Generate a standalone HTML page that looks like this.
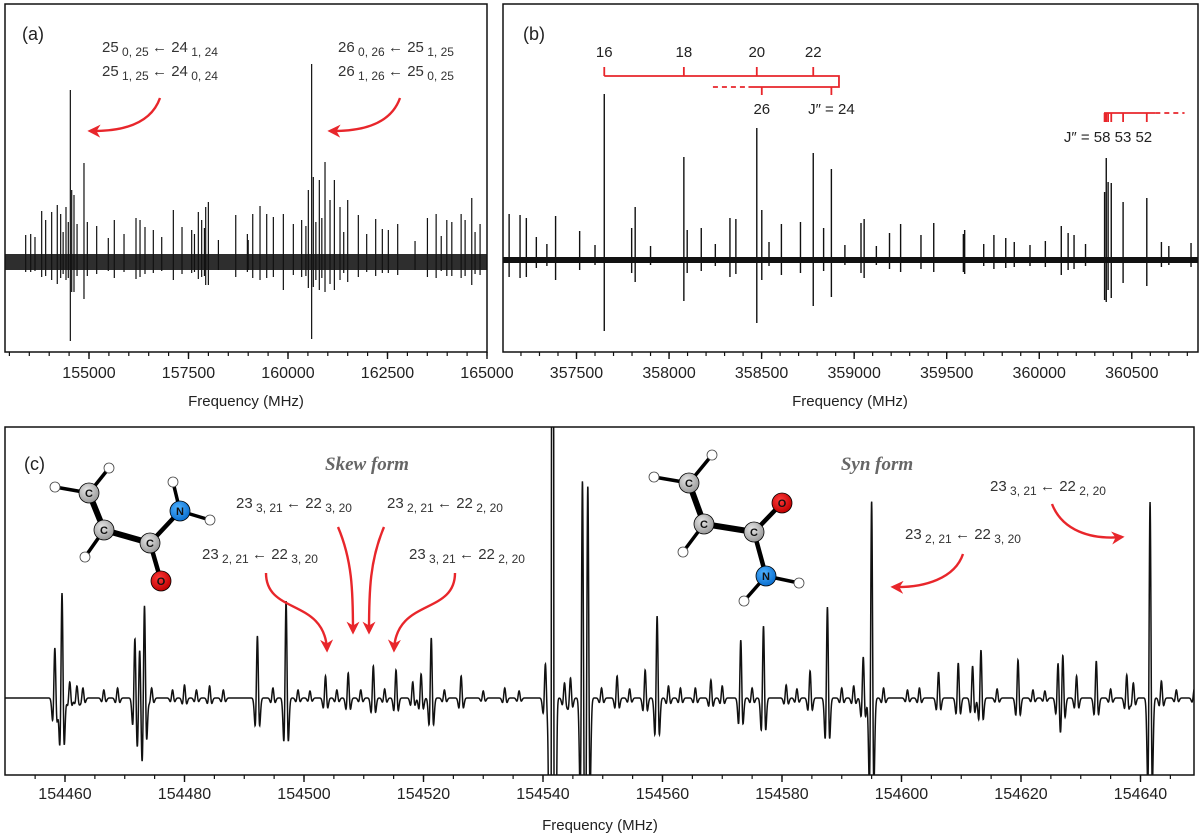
<!DOCTYPE html>
<html><head><meta charset="utf-8"><style>
html,body{margin:0;padding:0;background:#fff;width:1200px;height:840px;overflow:hidden;}
svg{display:block;font-family:"Liberation Sans",Arial,sans-serif;}
.tl{font-size:16px;fill:#222;text-anchor:middle;}
.ax{font-size:15px;fill:#222;text-anchor:middle;}
.tr{font-size:15px;fill:#333;}
.sub{font-size:12px;}
.form{font-family:"Liberation Serif",serif;font-weight:bold;font-style:italic;font-size:19px;fill:#666;text-anchor:middle;}
.pl{font-size:18px;fill:#222;}
.arw{fill:none;stroke:#e8262b;stroke-width:2.4;}
.lad{stroke:#e8262b;stroke-width:1.8;fill:none;}
.lt{font-size:15px;fill:#222;text-anchor:middle;}
</style></head><body>
<svg id="fig" width="1200" height="840" viewBox="0 0 1200 840" xmlns="http://www.w3.org/2000/svg">
<defs>
<marker id="ah" viewBox="0 0 10 10" refX="8" refY="5" markerWidth="13" markerHeight="13" markerUnits="userSpaceOnUse" orient="auto"><path d="M0,0 L10,5 L0,10 L3,5 z" fill="#e8262b"/></marker>
<radialGradient id="gC" cx="40%" cy="35%" r="65%"><stop offset="0" stop-color="#e6e6e6"/><stop offset="1" stop-color="#9a9a9a"/></radialGradient>
<radialGradient id="gN" cx="40%" cy="35%" r="65%"><stop offset="0" stop-color="#4fb2ff"/><stop offset="1" stop-color="#0a6fd0"/></radialGradient>
<radialGradient id="gO" cx="40%" cy="35%" r="65%"><stop offset="0" stop-color="#ff3a3a"/><stop offset="1" stop-color="#c00000"/></radialGradient>
<clipPath id="clipA"><rect x="5" y="4" width="482" height="348"/></clipPath>
<clipPath id="clipB"><rect x="503" y="4" width="695" height="348"/></clipPath>
<clipPath id="clipC"><rect x="5" y="427" width="1189" height="348"/></clipPath>
</defs>

<g id="panelA">
<rect x="5" y="254" width="482" height="16" fill="#111" fill-opacity="0.88" clip-path="url(#clipA)"/>
<g id="sticksA" clip-path="url(#clipA)"></g>
<rect x="5" y="4" width="482" height="348" fill="none" stroke="#111" stroke-width="1.5"/>
<g id="ticksA"></g>
<text class="ax" x="246" y="406">Frequency (MHz)</text>
<text class="pl" x="22" y="40">(a)</text>
<text class="tr" x="102" y="52">25<tspan class="sub" dy="4"> 0, 25 </tspan><tspan dy="-4">← 24</tspan><tspan class="sub" dy="4"> 1, 24</tspan></text>
<text class="tr" x="102" y="76">25<tspan class="sub" dy="4"> 1, 25 </tspan><tspan dy="-4">← 24</tspan><tspan class="sub" dy="4"> 0, 24</tspan></text>
<text class="tr" x="338" y="52">26<tspan class="sub" dy="4"> 0, 26 </tspan><tspan dy="-4">← 25</tspan><tspan class="sub" dy="4"> 1, 25</tspan></text>
<text class="tr" x="338" y="76">26<tspan class="sub" dy="4"> 1, 26 </tspan><tspan dy="-4">← 25</tspan><tspan class="sub" dy="4"> 0, 25</tspan></text>
<path class="arw" d="M160,98 Q148,132 90,131" marker-end="url(#ah)"/>
<path class="arw" d="M400,98 Q388,132 330,131" marker-end="url(#ah)"/>
</g>

<g id="panelB">
<rect x="503" y="257" width="695" height="6" fill="#111" clip-path="url(#clipB)"/>
<g id="sticksB" clip-path="url(#clipB)"></g>
<rect x="503" y="4" width="695" height="348" fill="none" stroke="#111" stroke-width="1.5"/>
<g id="ticksB"></g>
<text class="ax" x="850" y="406">Frequency (MHz)</text>
<text class="pl" x="523" y="40">(b)</text>
<g id="ladders"></g>
</g>

<g id="panelC">
<path id="traceC" fill="none" stroke="#111" stroke-width="1.5" clip-path="url(#clipC)"/>
<rect x="5" y="427" width="1189" height="348" fill="none" stroke="#111" stroke-width="1.5"/>
<g id="ticksC"></g>
<text class="ax" x="600" y="830">Frequency (MHz)</text>
<text class="pl" x="24" y="470">(c)</text>
<text class="form" x="367" y="470">Skew form</text>
<text class="form" x="877" y="470">Syn form</text>
<text class="tr" x="236" y="508">23<tspan class="sub" dy="4"> 3, 21 </tspan><tspan dy="-4">← 22</tspan><tspan class="sub" dy="4"> 3, 20</tspan></text>
<text class="tr" x="387" y="508">23<tspan class="sub" dy="4"> 2, 21 </tspan><tspan dy="-4">← 22</tspan><tspan class="sub" dy="4"> 2, 20</tspan></text>
<text class="tr" x="202" y="559">23<tspan class="sub" dy="4"> 2, 21 </tspan><tspan dy="-4">← 22</tspan><tspan class="sub" dy="4"> 3, 20</tspan></text>
<text class="tr" x="409" y="559">23<tspan class="sub" dy="4"> 3, 21 </tspan><tspan dy="-4">← 22</tspan><tspan class="sub" dy="4"> 2, 20</tspan></text>
<text class="tr" x="990" y="491">23<tspan class="sub" dy="4"> 3, 21 </tspan><tspan dy="-4">← 22</tspan><tspan class="sub" dy="4"> 2, 20</tspan></text>
<text class="tr" x="905" y="539">23<tspan class="sub" dy="4"> 2, 21 </tspan><tspan dy="-4">← 22</tspan><tspan class="sub" dy="4"> 3, 20</tspan></text>
<path class="arw" d="M266,573 C266,615 325,598 327,650" marker-end="url(#ah)"/>
<path class="arw" d="M338,527 C352,560 353,590 353,632" marker-end="url(#ah)"/>
<path class="arw" d="M384,527 C370,560 369,590 369,632" marker-end="url(#ah)"/>
<path class="arw" d="M455,573 C455,615 396,598 394,650" marker-end="url(#ah)"/>
<path class="arw" d="M1052,504 C1062,530 1090,540 1122,537" marker-end="url(#ah)"/>
<path class="arw" d="M963,554 C955,578 925,588 893,587" marker-end="url(#ah)"/>

<g stroke="#000">
<line x1="55" y1="487" x2="89" y2="493" stroke-width="3.5"/>
<line x1="109" y1="468" x2="89" y2="493" stroke-width="3.5"/>
<line x1="89" y1="493" x2="104" y2="530" stroke-width="6"/>
<line x1="85" y1="557" x2="104" y2="530" stroke-width="3.5"/>
<line x1="104" y1="530" x2="150" y2="543" stroke-width="6"/>
<line x1="150" y1="543" x2="180" y2="511" stroke-width="4.5"/>
<line x1="150" y1="543" x2="161" y2="581" stroke-width="4.5"/>
<line x1="173" y1="482" x2="180" y2="511" stroke-width="3.5"/>
<line x1="210" y1="520" x2="180" y2="511" stroke-width="3.5"/>
<g stroke="#444" stroke-width="0.8" fill="#fff">
<circle cx="55" cy="487" r="5"/><circle cx="109" cy="468" r="5"/><circle cx="85" cy="557" r="5"/><circle cx="173" cy="482" r="5"/><circle cx="210" cy="520" r="5"/>
</g>
<circle cx="89" cy="493" r="10" fill="url(#gC)" stroke-width="0.8"/><circle cx="104" cy="530" r="10" fill="url(#gC)" stroke-width="0.8"/><circle cx="150" cy="543" r="10" fill="url(#gC)" stroke-width="0.8"/>
<circle cx="180" cy="511" r="10" fill="url(#gN)" stroke-width="0.8"/><circle cx="161" cy="581" r="10" fill="url(#gO)" stroke-width="0.8"/>
<g stroke="none" font-size="11" font-weight="bold" text-anchor="middle" fill="#111"><text x="89" y="497">C</text><text x="104" y="534">C</text><text x="150" y="547">C</text><text x="180" y="515">N</text><text x="161" y="585">O</text></g>
</g>

<g stroke="#000">
<line x1="654" y1="477" x2="689" y2="483" stroke-width="3.5"/>
<line x1="712" y1="455" x2="689" y2="483" stroke-width="3.5"/>
<line x1="689" y1="483" x2="704" y2="524" stroke-width="6"/>
<line x1="683" y1="552" x2="704" y2="524" stroke-width="3.5"/>
<line x1="704" y1="524" x2="754" y2="532" stroke-width="6"/>
<line x1="754" y1="532" x2="782" y2="503" stroke-width="4.5"/>
<line x1="754" y1="532" x2="766" y2="576" stroke-width="4.5"/>
<line x1="744" y1="601" x2="766" y2="576" stroke-width="3.5"/>
<line x1="799" y1="583" x2="766" y2="576" stroke-width="3.5"/>
<g stroke="#444" stroke-width="0.8" fill="#fff">
<circle cx="654" cy="477" r="5"/><circle cx="712" cy="455" r="5"/><circle cx="683" cy="552" r="5"/><circle cx="744" cy="601" r="5"/><circle cx="799" cy="583" r="5"/>
</g>
<circle cx="689" cy="483" r="10" fill="url(#gC)" stroke-width="0.8"/><circle cx="704" cy="524" r="10" fill="url(#gC)" stroke-width="0.8"/><circle cx="754" cy="532" r="10" fill="url(#gC)" stroke-width="0.8"/>
<circle cx="782" cy="503" r="10" fill="url(#gO)" stroke-width="0.8"/><circle cx="766" cy="576" r="10" fill="url(#gN)" stroke-width="0.8"/>
<g stroke="none" font-size="11" font-weight="bold" text-anchor="middle" fill="#111"><text x="689" y="487">C</text><text x="704" y="528">C</text><text x="754" y="536">C</text><text x="782" y="507">O</text><text x="766" y="580">N</text></g>
</g>
</g>
</svg>
<script>
// ---------- data ----------
// Panel (a): [frequency MHz, intensity up, intensity down]
const aLines = [
[153409,27,10],[153535,28,10],[153643,25,9],[153811,51,15],[153911,42,14],[154062,50,18],
[154203,57,22],[154288,48,16],[154422,55,18],[154531,172,79],[154565,72,30],[154623,67,30],
[154874,99,37],[154958,40,14],[155193,36,12],[155485,24,9],[155636,42,16],[155880,28,10],
[156181,44,17],[156282,42,15],[156407,35,12],[156616,32,11],[156827,25,9],[157119,52,18],
[157337,35,12],[157580,32,11],[157747,50,17],[157831,42,15],[157932,55,23],[157999,60,23],
[158251,22,8],[158687,47,15],[158979,28,10],[159114,48,16],[159297,56,18],[159465,48,16],
[159632,45,15],[159883,48,28],[160134,38,13],[160343,42,15],[160511,72,26],[160594,198,77],
[160636,85,25],[160787,82,28],[160930,100,30],[161056,62,22],[161165,82,28],[161307,55,18],
[161500,62,20],[161767,47,15],[161977,28,10],[162203,43,14],[162370,33,11],[162521,32,11],
[162756,38,13],[163192,21,8],[163503,44,15],[163722,48,16],[163990,42,14],[164116,40,14],
[164350,48,16],[164450,42,14],[164617,64,23],[164826,38,13],
[154350,30,12],[154700,38,14],[154480,40,16],[160450,36,14],[160700,40,18],[160850,44,16],
[161400,30,11],[157650,28,10],[157900,34,14],[159000,22,8],[163850,26,9],[164700,30,12]
];
const aTicks = [155000,157500,160000,162500,165000];
const aTickLabels = ["155000","157500","160000","162500","165000"];
// Panel (b)
const bLines = [
[357136,46,17],[357195,45,18],[357229,42,17],[357283,23,8],[357387,44,20],[357517,29,10],
[357650,166,71],[357798,32,13],[357817,53,22],[358080,103,41],[358098,30,13],[358174,32,11],
[358329,42,17],[358361,41,14],[358474,132,63],[358501,50,20],[358607,36,15],[358710,38,13],
[358779,107,46],[358835,32,11],[358877,91,37],[359037,37,13],[359054,41,18],[359191,27,9],
[359251,36,12],[359361,25,9],[359430,37,12],[359597,30,14],[359590,26,12],[359755,25,9],
[359819,22,8],[359865,18,7],[360033,19,7],[360119,34,15],[360156,27,10],[360188,25,9],
[360353,68,40],[360362,102,42],[360372,78,30],[360389,77,38],[360453,58,23],[360581,62,26],
[360660,18,7],[360820,17,7],[357340,16,6],[357600,15,5],[357900,14,5],[358250,16,6],
[358540,18,6],[358950,15,5],[359120,14,5],[359700,16,6],[359950,15,6],[360250,16,6],[360700,14,5]
];
const bTicks = [357500,358000,358500,359000,359500,360000,360500];
const bTickLabels = ["357500","358000","358500","359000","359500","360000","360500"];
const ladderFreqs = [357650,358080,358474,358779];
const ladderLabels = ["16","18","20","22"];
const ladder2Freqs = [358501,358877];
const ladder2Labels = ["26","J\u2033 = 24"];
const ladder3Freqs = [360353,360362,360372,360389,360453,360581];
// Panel (c): [frequency MHz, amplitude]
const cLines = [
[154458.3,50],[154459.5,105],[154460.8,16],[154462.0,12],[154463.0,10],[154466.5,8],[154468.8,10],
[154471.7,60],[154472.5,50],[154473.3,93],[154474.5,10],[154478.0,8],[154480.0,13],[154482.0,8],[154484.2,12],
[154486.5,8],[154492.2,62],[154494.8,10],[154497.0,97],[154499.0,8],[154501.0,7],[154503.6,22],[154505.5,8],
[154507.4,25],[154509.5,8],[154511.6,32],[154513.5,9],[154515.4,28],[154518.2,16],[154519.6,24],
[154521.3,60],[154523.5,8],[154526.3,22],[154530.0,7],[154533.6,10],[154536.0,7],[154540.4,34],
[154541.6,1500],[154543.6,15],[154544.6,20],[154546.6,218],[154547.5,213],[154549.8,10],
[154552.4,22],[154554.5,9],[154557.1,28],[154559.1,82],[154561.0,12],[154563.0,10],[154565.5,10],
[154568.1,18],[154570.0,12],[154573.1,58],[154575.0,10],[154576.9,72],[154580.7,13],[154582.5,9],
[154584.7,27],[154587.6,91],[154590.0,10],[154592.0,12],[154593.6,41],[154595.0,197],[154597.0,10],
[154601.0,8],[154603.0,10],[154606.2,26],[154609.5,35],[154611.9,32],[154613.3,48],[154616.0,9],
[154619.5,38],[154622.0,8],[154624.0,7],[154626.2,35],[154627.0,43],[154629.3,22],[154632.6,37],
[154635.0,9],[154637.7,23],[154638.8,15],[154641.6,196],[154643.5,17],[154646.0,8],[154649.0,9]
];
const cTicks = [154460,154480,154500,154520,154540,154560,154580,154600,154620,154640];
const cTickLabels = ["154460","154480","154500","154520","154540","154560","154580","154600","154620","154640"];

// ---------- axes ----------
const NS = "http://www.w3.org/2000/svg";
const xa = f => 89 + (f - 155000) * 0.0398;
const xb = f => 576.5 + (f - 357500) * 0.1851;
const xc = f => 65 + (f - 154460) * 5.975;
const baseA = 262, baseB = 260, baseC = 698;

function mk(tag, attrs, parent) {
  const e = document.createElementNS(NS, tag);
  for (const k in attrs) e.setAttribute(k, attrs[k]);
  parent.appendChild(e);
  return e;
}

const gA = document.getElementById("sticksA");
aLines.forEach((d, i) => {
  const x = xa(d[0]);
  const l = mk("line", {x1: x, x2: x, y1: baseA - d[1], y2: baseA + d[2], stroke: "#111", "stroke-width": 1.2}, gA);
  
  
});
const gB = document.getElementById("sticksB");
bLines.forEach((d, i) => {
  const x = xb(d[0]);
  const l = mk("line", {x1: x, x2: x, y1: baseB - d[1], y2: baseB + d[2], stroke: "#111", "stroke-width": 1.4}, gB);
  
  
});

function drawTicks(gid, xf, lo, hi, minorStep, majors, labels, yAxis, labelY) {
  const g = document.getElementById(gid);
  for (let f = Math.ceil(lo / minorStep) * minorStep; f <= hi; f += minorStep) {
    const x = xf(f);
    const t = mk("line", {x1: x, x2: x, y1: yAxis, y2: yAxis + 4, stroke: "#111", "stroke-width": 1.2}, g);
    
    
  }
  majors.forEach((f, i) => {
    const x = xf(f);
    const t = mk("line", {x1: x, x2: x, y1: yAxis, y2: yAxis + 7, stroke: "#111", "stroke-width": 1.4}, g);
    
    
    const tx = mk("text", {x: x, y: labelY, class: "tl"}, g);
    tx.textContent = labels[i];
    
    
  });
}
drawTicks("ticksA", xa, 152900, 165000, 500, aTicks, aTickLabels, 352, 378);
drawTicks("ticksB", xb, 357110, 360850, 100, bTicks, bTickLabels, 352, 378);
drawTicks("ticksC", xc, 154451, 154649, 5, cTicks, cTickLabels, 775, 799);

const gL = document.getElementById("ladders");
const yL1 = 76, yL2 = 87;
const p1 = mk("path", {class: "lad", d: `M${xb(ladderFreqs[0])},${yL1} H${xb(358918)} V${yL2} H${xb(358429)}`}, gL);


const p1d = mk("path", {class: "lad", d: `M${xb(358237)},${yL2} H${xb(358429)}`, "stroke-dasharray": "5,4"}, gL);


ladderFreqs.forEach((f, i) => {
  const x = xb(f);
  const t = mk("line", {class: "lad", x1: x, x2: x, y1: yL1 - 9, y2: yL1}, gL);
  
  
  const tx = mk("text", {class: "lt", x: x, y: 57}, gL);
  tx.textContent = ladderLabels[i];
  
  
});
ladder2Freqs.forEach((f, i) => {
  const x = xb(f);
  const t = mk("line", {class: "lad", x1: x, x2: x, y1: yL2, y2: yL2 + 8}, gL);
  
  
  const tx = mk("text", {class: "lt", x: x, y: 114}, gL);
  tx.textContent = ladder2Labels[i];
  
  
});
const yL3 = 113;
const p3 = mk("path", {class: "lad", d: `M${xb(360350)},${yL3} H${xb(360627)}`}, gL);


const p3d = mk("path", {class: "lad", d: `M${xb(360627)},${yL3} H${xb(360785)}`, "stroke-dasharray": "5,4"}, gL);


ladder3Freqs.forEach((f) => {
  const x = xb(f);
  const t = mk("line", {class: "lad", x1: x, x2: x, y1: yL3, y2: yL3 + 9}, gL);
  
  
});
const l3 = mk("text", {class: "lt", x: 1108, y: 142}, gL);
l3.textContent = "J\u2033 = 58 53 52";



const sig = 0.22;
let d = "";
for (let f = 154449; f <= 154650; f += 0.03) {
  let v = 0;
  for (const L of cLines) {
    const u = (f - L[0]) / sig;
    if (Math.abs(u) < 6) v += L[1] * (1 - u * u) * Math.exp(-u * u / 2);
  }
  const y = Math.max(400, Math.min(800, baseC - v));
  d += (d ? "L" : "M") + xc(f).toFixed(2) + "," + y.toFixed(2);
}
document.getElementById("traceC").setAttribute("d", d);
</script>
</body></html>
